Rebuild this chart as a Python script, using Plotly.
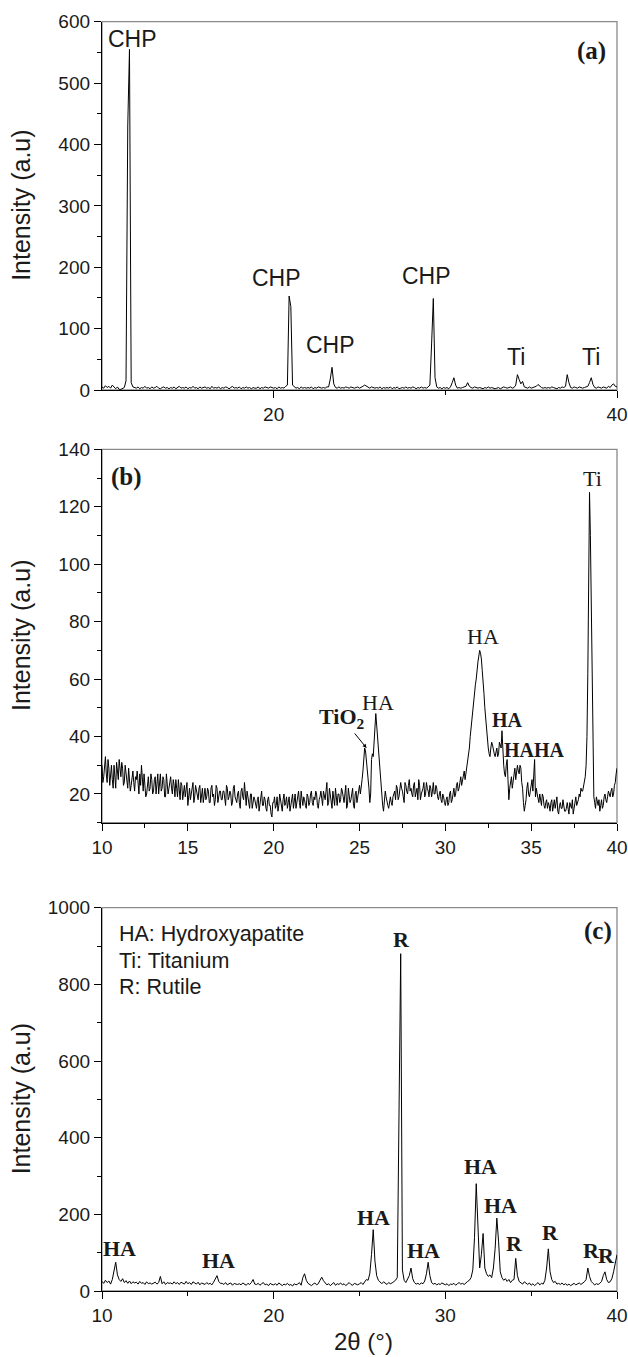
import numpy as np
import plotly.graph_objects as go

# ---------------- data ----------------
# 2theta grid 10..40, step 0.1 (panels a, c) ; panel b additionally has readings at the half steps
two_theta = np.round(np.arange(10.0, 40.0001, 0.1), 1)
two_theta_half = np.round(np.arange(10.05, 39.96, 0.1), 2)

# panel (a) intensities
intensity_a = [
    5, 3, 7, 4, 6, 3, 8, 4, 2, 5,
    1, 1, 2, 4, 15, 430, 555, 12, 5, 4,
    3, 5, 2, 4, 3, 6, 3, 4, 2, 5,
    3, 4, 6, 3, 2, 4, 5, 3, 4, 2,
    4, 3, 5, 2, 4, 6, 3, 4, 3, 5,
    2, 4, 3, 6, 3, 4, 2, 5, 3, 4,
    5, 3, 4, 2, 6, 3, 4, 3, 5, 2,
    4, 3, 5, 4, 2, 4, 6, 3, 4, 3,
    5, 2, 4, 3, 5, 3, 4, 2, 4, 3,
    3, 5, 2, 4, 3, 5, 4, 3, 5, 4,
    3, 4, 2, 5, 3, 4, 3, 6, 8, 153,
    136, 8, 5, 3, 4, 2, 5, 3, 4, 3,
    4, 3, 5, 2, 4, 3, 5, 4, 3, 4,
    3, 5, 5, 18, 37, 10, 4, 3, 5, 3,
    4, 3, 5, 4, 3, 5, 4, 3, 4, 5,
    3, 4, 6, 8, 6, 4, 3, 5, 4, 3,
    4, 3, 5, 2, 4, 3, 4, 3, 5, 2,
    4, 3, 5, 2, 3, 4, 3, 5, 3, 4,
    3, 5, 4, 2, 4, 3, 5, 3, 4, 3,
    5, 8, 75, 149, 20, 5, 3, 4, 2, 4,
    3, 4, 2, 5, 12, 20, 8, 3, 4, 3,
    4, 5, 6, 12, 6, 4, 3, 5, 4, 3,
    4, 3, 2, 4, 3, 5, 3, 4, 3, 2,
    3, 4, 2, 3, 5, 4, 3, 4, 5, 3,
    4, 8, 25, 17, 10, 14, 5, 4, 3, 5,
    3, 4, 5, 6, 9, 6, 4, 3, 4, 3,
    4, 3, 5, 4, 3, 2, 4, 3, 5, 4,
    6, 25, 12, 4, 3, 5, 4, 3, 5, 4,
    3, 4, 5, 6, 12, 20, 9, 4, 3, 5,
    4, 3, 5, 4, 3, 6, 4, 8, 10, 6,
    5,
]

# panel (b) intensities at 10.0, 10.1, ... 40.0
intensity_b = [
    30, 26, 33, 24, 29, 27, 25, 30, 22, 28,
    32, 26, 29, 24, 27, 22, 26, 23, 28, 21,
    25, 22, 27, 30, 21, 24, 20, 26, 22, 25,
    21, 26, 23, 20, 27, 22, 25, 19, 24, 22,
    26, 20, 23, 25, 19, 22, 24, 18, 23, 21,
    16, 22, 20, 24, 19, 21, 18, 23, 20, 17,
    22, 19, 21, 17, 23, 20, 18, 22, 19, 21,
    18, 21, 16, 22, 19, 20, 17, 23, 18, 20,
    17, 21, 19, 24, 16, 19, 15, 20, 17, 18,
    15, 19, 17, 21, 16, 18, 14, 19, 16, 12,
    17, 15, 19, 16, 18, 14, 20, 17, 15, 19,
    16, 20, 18, 15, 19, 17, 21, 16, 18, 15,
    19, 17, 21, 16, 18, 20, 15, 19, 17, 21,
    18, 24, 17, 20, 15, 19, 22, 16, 20, 18,
    21, 17, 23, 16, 20, 18, 22, 15, 21, 19,
    23, 22, 28, 36, 32, 27, 17, 32, 33, 47,
    44, 34, 28, 19, 14, 21, 17, 15, 19, 16,
    20, 18, 22, 19, 24, 21, 17, 23, 20, 25,
    22, 19, 24, 21, 18, 23, 20, 22, 19, 24,
    21, 23, 19, 24, 20, 22, 18, 21, 17, 19,
    16, 19, 17, 21, 18, 22, 20, 24, 22, 26,
    25, 28, 27, 32, 36, 43, 50, 57, 60, 66,
    70, 67, 60, 50, 42, 36, 33, 38, 35, 33,
    36, 34, 37, 42, 30, 26, 32, 18, 24, 22,
    28, 25, 30, 27, 29, 22, 14, 18, 24, 19,
    23, 21, 32, 22, 18, 20, 16, 19, 15, 18,
    17, 14, 18, 16, 15, 19, 13, 17, 15, 16,
    14, 17, 13, 16, 18, 15, 19, 17, 20, 22,
    21, 24, 30, 62, 125, 85, 25, 17, 19, 16,
    14, 18, 16, 20, 17, 21, 19, 22, 20, 24,
    29,
]
# panel (b) intensities at 10.05, 10.15, ... 39.95
intensity_b_half = [
    24, 31, 27, 32, 23, 30, 22, 27, 31, 25,
    28, 31, 23, 30, 25, 29, 21, 27, 24, 26,
    28, 20, 23, 26, 27, 19, 25, 21, 27, 20,
    25, 20, 27, 24, 21, 26, 19, 27, 20, 25,
    22, 25, 19, 22, 25, 18, 23, 21, 19, 24,
    21, 18, 23, 17, 23, 19, 22, 17, 22, 20,
    18, 22, 17, 22, 19, 16, 23, 17, 21, 18,
    21, 17, 23, 18, 21, 16, 22, 19, 17, 21,
    15, 22, 18, 17, 21, 16, 20, 15, 19, 16,
    18, 14, 20, 16, 19, 15, 18, 16, 13, 17,
    19, 16, 14, 20, 15, 18, 16, 19, 17, 14,
    18, 15, 20, 17, 21, 15, 18, 19, 16, 20,
    16, 20, 17, 19, 21, 16, 18, 21, 16, 19,
    21, 16, 22, 17, 21, 16, 18, 20, 17, 22,
    19, 20, 15, 22, 17, 21, 16, 20, 17, 22,
    20, 25, 33, 35, 30, 22, 20, 34, 40, 48,
    40, 31, 22, 16, 18, 19, 16, 18, 17, 19,
    21, 23, 18, 21, 22, 19, 24, 21, 23, 21,
    20, 23, 19, 22, 25, 18, 21, 24, 20, 22,
    19, 22, 21, 20, 23, 19, 20, 18, 20, 17,
    18, 16, 20, 17, 20, 19, 23, 21, 24, 23,
    27, 25, 30, 34, 40, 47, 52, 58, 64, 68,
    69, 63, 55, 46, 39, 34, 36, 37, 34, 35,
    33, 38, 36, 34, 27, 30, 25, 22, 26, 25,
    29, 27, 28, 30, 24, 17, 16, 22, 20, 21,
    25, 27, 19, 20, 17, 18, 20, 16, 17, 15,
    16, 17, 14, 18, 17, 14, 16, 15, 18, 14,
    15, 14, 17, 15, 13, 17, 16, 18, 19, 21,
    23, 26, 40, 100, 110, 50, 19, 15, 17, 18,
    16, 15, 19, 18, 19, 20, 21, 19, 23, 27,
]

# panel (c) intensities
intensity_c = [
    25, 20, 28, 22, 26, 18, 30, 55, 75, 42,
    30, 25, 32, 22, 27, 20, 26, 19, 24, 21,
    23, 18, 25, 20, 22, 17, 24, 19, 21, 18,
    20, 23, 18, 22, 38, 19, 24, 17, 22, 20,
    21, 18, 24, 19, 22, 17, 23, 20, 18, 25,
    19, 22, 17, 24, 20, 18, 23, 16, 21, 19,
    17, 22, 18, 20, 16, 23, 30, 40, 25, 20,
    20, 17, 22, 16, 19, 21, 15, 20, 18, 17,
    19, 16, 21, 18, 15, 20, 17, 22, 30, 18,
    17, 20, 15, 19, 22, 16, 18, 14, 20, 17,
    16, 19, 15, 21, 17, 14, 18, 16, 20, 15,
    17, 13, 19, 16, 18, 22, 15, 35, 45, 28,
    20, 17, 14, 18, 21, 16, 19, 28, 36, 27,
    20, 16, 19, 14, 18, 22, 15, 19, 17, 21,
    16, 19, 14, 18, 22, 17, 15, 20, 18, 16,
    19, 22, 17, 24, 30, 28, 45, 95, 160, 78,
    40, 28, 22, 19, 24, 20, 17, 22, 19, 21,
    24, 28, 35, 420, 880, 55, 28, 22, 30, 40,
    60, 32, 22, 18, 20, 17, 21, 19, 26, 45,
    75, 40, 22, 18, 20, 16, 19, 17, 21, 18,
    16, 19, 14, 18, 17, 20, 15, 19, 22, 18,
    20, 17, 22, 25, 28, 35, 55, 140, 280, 170,
    60, 95, 150, 60, 45, 38, 42, 35, 60, 110,
    190, 130, 50, 35, 28, 32, 25, 30, 22, 28,
    30, 85, 40, 25, 22, 18, 24, 20, 17, 21,
    15, 19, 14, 18, 22, 16, 20, 18, 28, 60,
    110, 50, 30, 22, 25, 18, 20, 17, 21, 16,
    19, 15, 18, 14, 17, 20, 16, 18, 21, 17,
    20, 24, 30, 60, 38, 25, 20, 16, 19, 17,
    20, 25, 40, 50, 30, 22, 24, 32, 50, 70,
    95,
]

# peak labels: (text, x, y)
labels_a = [("CHP", 11.75, 572), ("CHP", 20.16, 182), ("CHP", 23.3, 73),
            ("CHP", 28.9, 186), ("Ti", 34.1, 54), ("Ti", 38.5, 54)]
labels_b_regular = [("Ti", 38.55, 129.7), ("HA", 32.2, 75), ("HA", 26.1, 52)]
labels_b_bold = [("HA", 33.65, 45.7), ("HA", 34.3, 35.4), ("HA", 36.05, 35.4)]
labels_c = [("R", 27.45, 916), ("HA", 11.0, 110), ("HA", 16.8, 80), ("HA", 25.8, 191),
            ("HA", 28.7, 106), ("HA", 32.07, 326), ("HA", 33.2, 224), ("R", 34.05, 123),
            ("R", 36.1, 152), ("R", 38.5, 106), ("R", 39.4, 92)]
legend_lines = [("HA: Hydroxyapatite", 931), ("Ti: Titanium", 862), ("R: Rutile", 793)]

# merge panel (b) readings in 2theta order
order_b = np.argsort(np.concatenate([two_theta, two_theta_half]), kind="stable")
x_b = np.concatenate([two_theta, two_theta_half])[order_b]
y_b = np.concatenate([intensity_b, intensity_b_half])[order_b]

# ---------------- figure ----------------
W, H = 628, 1357
SANS = "Liberation Sans, Arial, sans-serif"
SERIF = "Liberation Serif, Times New Roman, serif"

fig = go.Figure()
for i, (xs, ys) in enumerate([(two_theta, intensity_a), (x_b, y_b), (two_theta, intensity_c)], start=1):
    fig.add_trace(go.Scatter(x=xs, y=ys, mode="lines",
                             line=dict(color="black", width=1),
                             xaxis=f"x{'' if i == 1 else i}", yaxis=f"y{'' if i == 1 else i}",
                             showlegend=False, hoverinfo="skip"))

def px_x(x):
    return x / W

def px_y(y):
    return 1 - y / H

xdom = [px_x(102), px_x(617)]
def ydom(top, bottom):
    return [px_y(bottom), px_y(top)]

tickfont = dict(family=SANS, size=19, color="#1a1a1a")
common_x = dict(showline=True, linecolor="black", linewidth=1.3, showgrid=False, zeroline=False,
                ticks="outside", tickcolor="black", ticklen=7, tickwidth=1.2, tickfont=tickfont,
                domain=xdom, range=[10, 40], automargin=False)
common_y = dict(showline=True, linecolor="black", linewidth=1.3, showgrid=False, zeroline=False,
                ticks="outside", tickcolor="black", ticklen=7, tickwidth=1.2, tickfont=tickfont,
                automargin=False)

fig.update_layout(
    width=W, height=H, margin=dict(l=0, r=0, t=0, b=0, autoexpand=False),
    paper_bgcolor="white", plot_bgcolor="white", showlegend=False,
    xaxis=dict(**common_x, anchor="y", tickmode="array", tickvals=[20, 40],
               minor=dict(tickmode="array", tickvals=[30], ticks="outside", ticklen=4,
                          tickcolor="black", showgrid=False)),
    yaxis=dict(**common_y, domain=ydom(21.7, 390), anchor="x", range=[0, 600], dtick=100,
               minor=dict(dtick=50, ticks="outside", ticklen=4, tickcolor="black", showgrid=False)),
    xaxis2=dict(**common_x, anchor="y2", dtick=5,
                minor=dict(dtick=2.5, ticks="outside", ticklen=4, tickcolor="black", showgrid=False)),
    yaxis2=dict(**common_y, domain=ydom(449.3, 822.7), anchor="x2", range=[10, 140],
                tickmode="array", tickvals=[20, 40, 60, 80, 100, 120, 140],
                minor=dict(tickmode="array", tickvals=[10, 30, 50, 70, 90, 110, 130],
                           ticks="outside", ticklen=4, tickcolor="black", showgrid=False)),
    xaxis3=dict(**common_x, anchor="y3", dtick=10,
                minor=dict(dtick=5, ticks="outside", ticklen=4, tickcolor="black", showgrid=False)),
    yaxis3=dict(**common_y, domain=ydom(907.7, 1291), anchor="x3", range=[0, 1000], dtick=200,
                minor=dict(dtick=100, ticks="outside", ticklen=4, tickcolor="black", showgrid=False)),
)

# frame boxes (lighter top/right spines)
for s in ["", "2", "3"]:
    fig.add_shape(type="rect", xref=f"x{s} domain", yref=f"y{s} domain", x0=0, x1=1, y0=0, y1=1,
                  line=dict(color="#8a8a8a", width=1.3), layer="below")

def ann(text, x, y, s, font, **kw):
    fig.add_annotation(text=text, x=x, y=y, xref=f"x{s}", yref=f"y{s}", showarrow=False,
                       font=font, xanchor="center", yanchor="middle", **kw)

sans_lab = dict(family=SANS, size=23, color="#1a1a1a")
serif_lab = dict(family=SERIF, size=22, color="#1a1a1a")
serif_bold_small = dict(family=SERIF, size=20, color="#1a1a1a")
tag_font = dict(family=SERIF, size=25, color="#1a1a1a")
for t, x, y in labels_a:
    ann(t, x, y, "", sans_lab)
ann("<b>(a)</b>", 38.5, 552, "", tag_font)

ann("<b>(b)</b>", 11.4, 130.4, "2", tag_font)
for t, x, y in labels_b_regular:
    ann(t, x, y, "2", serif_lab)
for t, x, y in labels_b_bold:
    ann(f"<b>{t}</b>", x, y, "2", serif_bold_small)
ann("<b>TiO<sub>2</sub></b>", 24.0, 46.5, "2", serif_lab)
fig.add_annotation(x=25.41, y=36.0, ax=24.65, ay=41.6, xref="x2", yref="y2", axref="x2", ayref="y2",
                   text="", showarrow=True, arrowhead=2, arrowsize=0.8, arrowwidth=1, arrowcolor="black")

ann("<b>(c)</b>", 38.9, 938, "3", tag_font)
for t, x, y in labels_c:
    ann(f"<b>{t}</b>", x, y, "3", serif_lab)
for t, y in legend_lines:
    fig.add_annotation(text=t, x=10.85, y=y, xref="x3", yref="y3", showarrow=False,
                       font=dict(family=SANS, size=21.5, color="#1a1a1a"), xanchor="left", yanchor="middle")

# axis titles
ytitle_font = dict(family=SANS, size=25, color="#1a1a1a")
for top, bottom in [(21.7, 390), (449.3, 822.7), (907.7, 1291)]:
    fig.add_annotation(text="Intensity (a.u)", x=px_x(21), y=px_y((top + bottom) / 2),
                       xref="paper", yref="paper", showarrow=False, textangle=-90,
                       font=ytitle_font, xanchor="center", yanchor="middle")
fig.add_annotation(text="2θ (°)", x=px_x(363), y=px_y(1341), xref="paper", yref="paper",
                   showarrow=False, font=dict(family=SANS, size=24, color="#1a1a1a"),
                   xanchor="center", yanchor="middle")

# remove the page's default body margin so the figure sits at the window's top-left corner
fig.write_html("out.html", config={"displayModeBar": False},
               post_script="document.body.style.margin='0';document.body.style.overflow='hidden';")
